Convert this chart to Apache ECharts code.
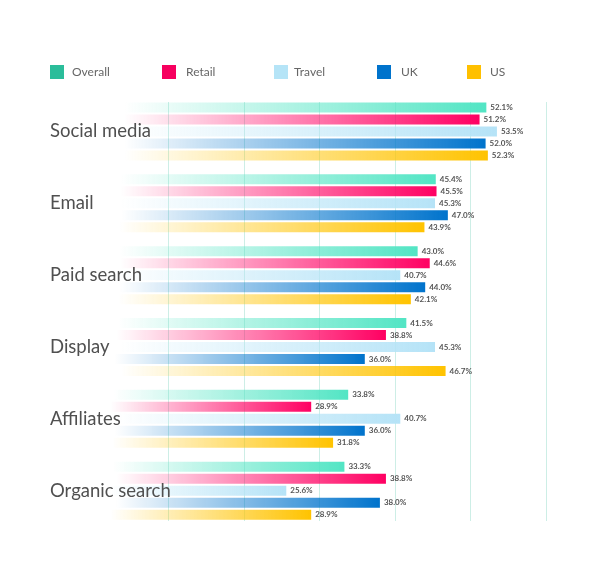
<!DOCTYPE html>
<html><head><meta charset="utf-8">
<script src="https://cdn.jsdelivr.net/npm/echarts@6/dist/echarts.min.js"></script>
<style>html,body{margin:0;padding:0;background:#fff}#c{width:610px;height:583px}</style>
</head><body><div id="c"></div>
<script>
var categories = ['Social media','Email','Paid search','Display','Affiliates','Organic search'];
var seriesNames = ['Overall','Retail','Travel','UK','US'];
var overall = [52.1, 45.4, 43.0, 41.5, 33.8, 33.3];
var retail  = [51.2, 45.5, 44.6, 38.8, 28.9, 38.8];
var travel  = [53.5, 45.3, 40.7, 45.3, 40.7, 25.6];
var uk      = [52.0, 47.0, 44.0, 36.0, 36.0, 38.0];
var us      = [52.3, 43.9, 42.1, 46.7, 31.8, 28.9];
var xTicks = [0, 10, 20, 30, 40, 50, 60];

var values = [overall, retail, travel, uk, us];
var endColors = ['#52e5c4', '#ff0062', '#b5e3f7', '#0073cc', '#ffc300'];
var startColors = ['rgba(82,229,196,0)', 'rgba(255,0,98,0)', 'rgba(181,227,247,0)', 'rgba(0,115,204,0)', 'rgba(255,195,0,0)'];
var legendColors = ['#2bbd9a', '#f7005f', '#b5e4f7', '#0073cc', '#ffc000'];
var legendLeft = [50, 162, 274, 377, 467];
var legendTextPad = [3, 5, 1, 5, 4];

var chart = echarts.init(document.getElementById('c'), null, {renderer: 'canvas'});
var legends = seriesNames.map(function (n, i) {
  return {
    left: legendLeft[i], top: 65, itemWidth: 14, itemHeight: 14, itemGap: 8,
    icon: 'rect', padding: 0,
    textStyle: {fontFamily: 'Lato', fontSize: 12, color: '#666', padding: [0, 0, 0, legendTextPad[i]]},
    data: [{name: n, itemStyle: {color: legendColors[i]}}]
  };
});
var series = seriesNames.map(function (n, i) {
  return {
    name: n, type: 'bar', data: values[i], xAxisIndex: 0, yAxisIndex: 0,
    barWidth: 10, barGap: '20%', z: 3,
    itemStyle: {color: {type: 'linear', x: 0, y: 0, x2: 1, y2: 0,
      colorStops: [{offset: 0, color: startColors[i]}, {offset: 0.08, color: startColors[i]}, {offset: 1, color: endColors[i]}]}},
    label: {show: true, position: 'right', distance: 4, fontFamily: 'Lato', fontSize: 8, fontWeight: 'bold', color: '#555',
      formatter: function (p) { return p.value.toFixed(1) + '%'; }}
  };
});
chart.setOption({
  animation: false,
  legend: legends,
  grid: [
    {left: 93, right: 64, top: 95.6, height: 431, containLabel: false},
    {left: 93, right: 64, top: 102, height: 419, containLabel: false}
  ],
  xAxis: [
    {type: 'value', gridIndex: 0, min: xTicks[0], max: xTicks[xTicks.length - 1], interval: 10,
      axisLabel: {show: false}, axisLine: {show: false}, axisTick: {show: false}, splitLine: {show: false}},
    {type: 'value', gridIndex: 1, min: xTicks[0], max: xTicks[xTicks.length - 1], interval: 10, z: 0,
      axisLabel: {show: false}, axisLine: {show: false}, axisTick: {show: false},
      splitLine: {show: true, showMinLine: false, lineStyle: {color: '#cdeee6', width: 1}}}
  ],
  yAxis: [
    {type: 'category', gridIndex: 0, data: categories, inverse: true, z: 10,
      axisLine: {show: false}, axisTick: {show: false},
      axisLabel: {align: 'left', margin: 43, fontFamily: 'Lato', fontSize: 18.5, color: '#505050'}},
    {type: 'category', gridIndex: 1, data: categories, inverse: true, show: false}
  ],
  series: series
});
</script></body></html>
